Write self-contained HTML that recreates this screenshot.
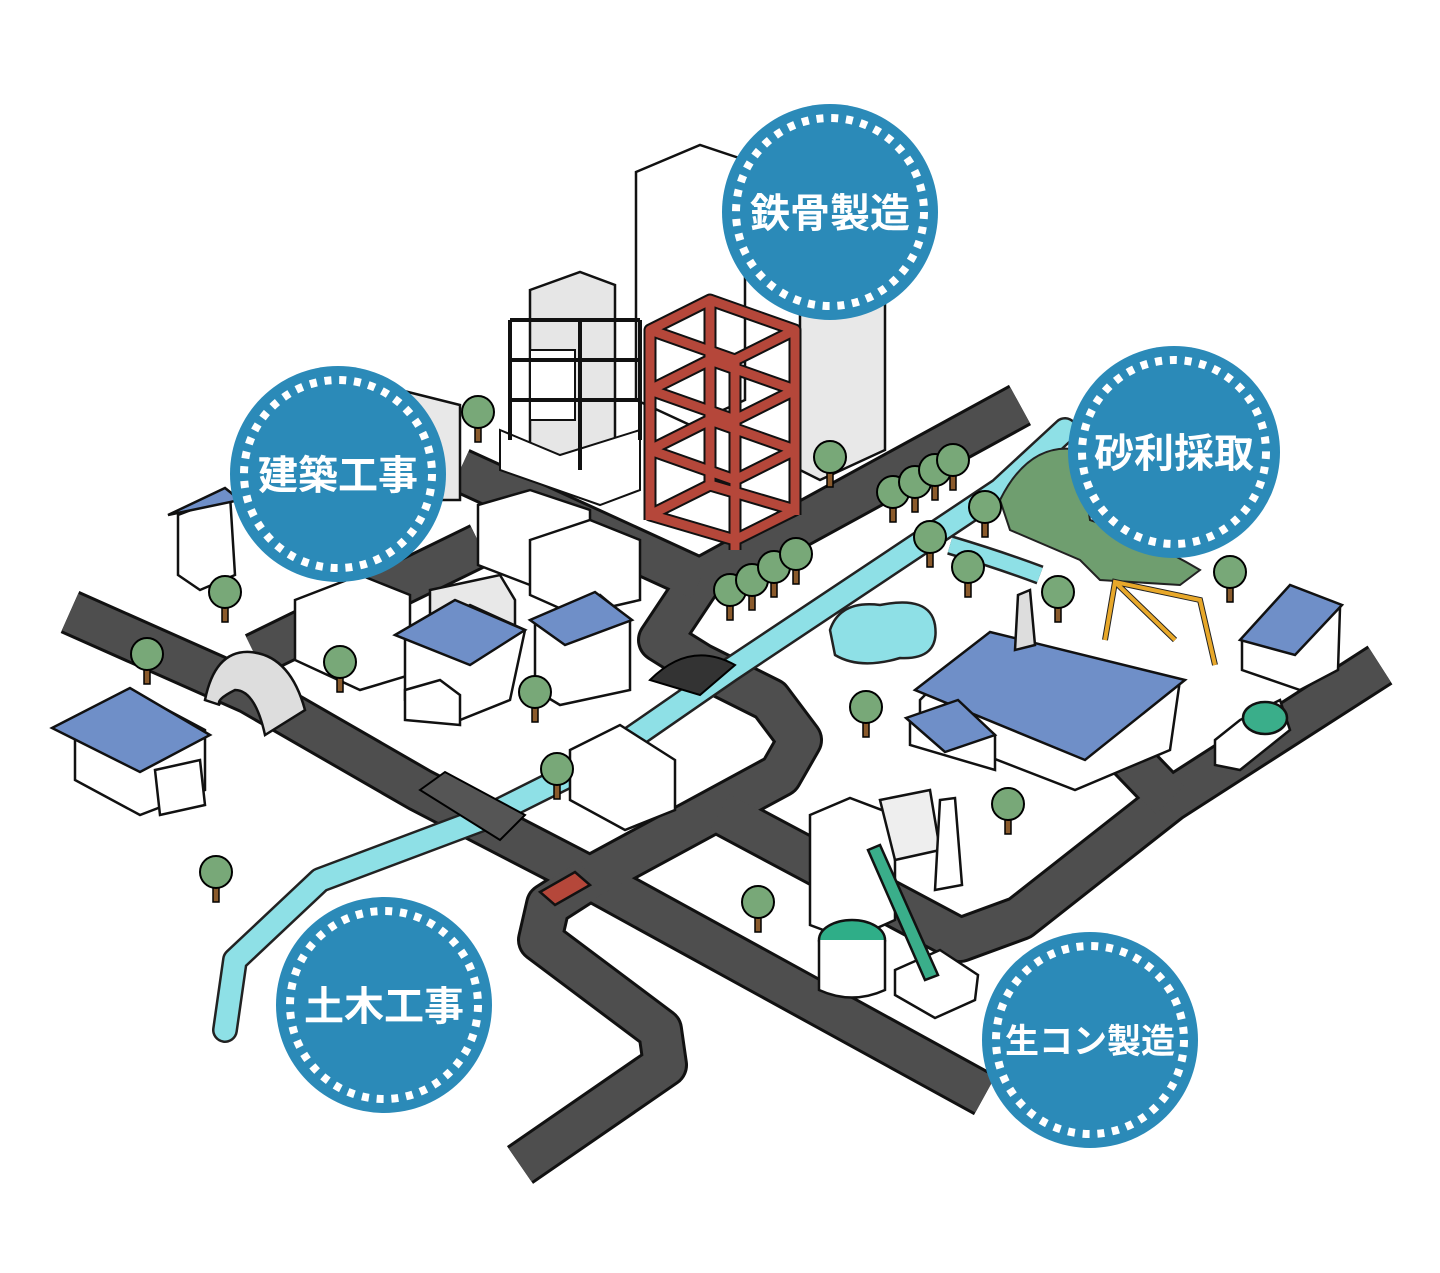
<!DOCTYPE html>
<html><head><meta charset="utf-8"><style>
html,body{margin:0;padding:0;background:#fff}
svg{display:block}
.t{font-family:"Liberation Sans","Noto Sans CJK JP",sans-serif;font-weight:bold;fill:#fff;text-anchor:middle}
</style></head><body>
<svg width="1440" height="1273" viewBox="0 0 1440 1273" xmlns="http://www.w3.org/2000/svg">
<defs>
<g id="tree"><rect x="-3" y="0" width="6" height="22" fill="#8a5a2b" stroke="#000" stroke-width="1.5"/><circle cx="0" cy="-8" r="16" fill="#78a878" stroke="#000" stroke-width="2"/></g>
</defs>
<!-- roads -->
<g fill="none" stroke-linejoin="round" stroke-linecap="butt">
<g stroke="#111" stroke-width="46">
<polyline points="70,612 250,692 420,790 590,878 985,1095"/>
<polyline points="1020,405 700,580 660,640 700,665 770,700 800,740 780,775 590,878"/>
<polyline points="460,470 700,580"/>
<polyline points="255,655 480,545"/>
<polyline points="520,1165 665,1065 660,1030 540,940 548,905 590,878"/>
<polyline points="720,812 960,940 1020,918 1170,800 1380,665"/>
<polyline points="1120,748 1170,800"/>
</g>
<g stroke="#4e4e4e" stroke-width="40">
<polyline points="70,612 250,692 420,790 590,878 985,1095"/>
<polyline points="1020,405 700,580 660,640 700,665 770,700 800,740 780,775 590,878"/>
<polyline points="460,470 700,580"/>
<polyline points="255,655 480,545"/>
<polyline points="520,1165 665,1065 660,1030 540,940 548,905 590,878"/>
<polyline points="720,812 960,940 1020,918 1170,800 1380,665"/>
<polyline points="1120,748 1170,800"/>
</g>
<!-- river -->
<polyline points="225,1030 235,960 320,880 480,820 600,760 730,670 1000,490 1065,430" stroke="#222" stroke-width="26" stroke-linecap="round" stroke-linejoin="round"/>
<polyline points="225,1030 235,960 320,880 480,820 600,760 730,670 1000,490 1065,430" stroke="#8ee0e6" stroke-width="21" stroke-linecap="round" stroke-linejoin="round"/>
<path d="M950,545 Q1000,560 1040,575" stroke="#222" stroke-width="20"/>
<path d="M950,545 Q1000,560 1040,575" stroke="#8ee0e6" stroke-width="15"/>
</g>
<!-- pond -->
<path d="M830,630 Q840,600 880,605 Q930,595 935,625 Q940,660 900,658 Q860,670 835,655 Z" fill="#8ee0e6" stroke="#222" stroke-width="2.5"/>
<!-- green hill -->
<path d="M1000,500 Q1030,440 1080,450 L1090,520 Q1150,540 1200,570 L1180,585 L1100,580 L1080,560 L1010,530 Z" fill="#6f9e6f" stroke="#222" stroke-width="2"/>
<!-- tunnel -->
<path d="M205,700 Q215,650 250,652 Q290,655 305,710 L265,735 Q255,690 235,690 Q215,700 220,705 Z" fill="#ddd" stroke="#111" stroke-width="2.5"/>
<!-- bridges -->
<path d="M650,680 Q690,640 735,665 L700,695 Z" fill="#333" stroke="#000" stroke-width="2"/>
<path d="M420,790 L445,772 L525,815 L500,840 Z" fill="#555" stroke="#000" stroke-width="2"/>
<!-- tall tower -->
<polygon points="636,172 700,145 745,160 745,400 690,425 636,400" fill="#fff" stroke="#111" stroke-width="2.5"/>
<polygon points="800,310 885,300 885,450 820,480 800,470" fill="#e8e8e8" stroke="#111" stroke-width="2.5"/>
<!-- left office -->
<polygon points="530,290 580,272 615,285 615,450 560,470 530,455" fill="#e6e6e6" stroke="#111" stroke-width="2.5"/>
<rect x="530" y="350" width="45" height="70" fill="#fff" stroke="#111" stroke-width="2"/>
<polygon points="500,430 560,455 640,430 640,490 600,505 500,470" fill="#fff" stroke="#111" stroke-width="2"/>
<g stroke="#111" stroke-width="4" fill="none"><path d="M510,320 L640,320 M510,360 L640,360 M510,400 L640,400 M510,320 L510,440 M640,320 L640,440 M580,320 L580,470"/></g>
<!-- red steel frame -->
<g fill="none" stroke="#111" stroke-width="13" stroke-linejoin="round">
<path d="M650,330 L710,300 L795,330 L735,360 Z M650,390 L710,360 L795,390 L735,420 Z M650,450 L710,420 L795,450 L735,480 Z M650,515 L710,485 L795,510 L735,540 Z M650,330 V520 M735,360 V550 M795,330 V515 M710,300 V490"/>
</g>
<g fill="none" stroke="#b5473a" stroke-width="9" stroke-linejoin="round">
<path d="M650,330 L710,300 L795,330 L735,360 Z M650,390 L710,360 L795,390 L735,420 Z M650,450 L710,420 L795,450 L735,480 Z M650,515 L710,485 L795,510 L735,540 Z M650,330 V520 M735,360 V550 M795,330 V515 M710,300 V490"/>
</g>
<!-- misc white buildings -->
<g stroke="#111" stroke-width="2.5">
<polygon points="478,505 530,490 590,510 590,570 530,585 478,565" fill="#fff"/>
<polygon points="530,540 590,520 640,540 640,600 575,615 530,595" fill="#fff"/>
<polygon points="400,390 460,405 460,500 420,500" fill="#e8e8e8"/>
<polygon points="295,600 360,575 410,595 410,675 360,690 295,660" fill="#fff"/>
<polygon points="430,590 500,575 515,600 515,640 430,650" fill="#e8e8e8"/>
<polygon points="405,640 470,605 525,630 510,700 460,720 405,700" fill="#fff"/>
<polygon points="395,635 455,600 525,630 470,665" fill="#6f8fc8"/>
<polygon points="535,625 600,595 630,620 630,690 560,705 535,690" fill="#fff"/>
<polygon points="530,620 595,592 632,620 565,645" fill="#6f8fc8"/>
<polygon points="405,690 440,680 460,695 460,725 405,720" fill="#fff"/>
<polygon points="178,515 230,495 235,575 200,590 178,575" fill="#fff"/>
<polygon points="168,515 225,488 240,500" fill="#6f8fc8"/>
<polygon points="570,750 620,725 675,760 675,810 625,830 570,800" fill="#fff"/>
<polygon points="75,740 130,690 205,730 205,790 140,815 75,780" fill="#fff"/>
<polygon points="52,728 130,688 210,735 140,772" fill="#6f8fc8"/>
<polygon points="155,770 200,760 205,805 160,815" fill="#fff"/>
<!-- factory -->
<polygon points="920,700 970,650 1180,680 1170,750 1075,790 920,730" fill="#fff"/>
<polygon points="915,690 990,632 1185,680 1085,760" fill="#6f8fc8"/>
<polygon points="910,720 960,705 995,735 995,770 910,745" fill="#fff"/>
<polygon points="906,718 958,700 995,735 945,752" fill="#6f8fc8"/>
<polygon points="1018,595 1030,590 1035,645 1015,650" fill="#ddd"/>
<!-- right house -->
<polygon points="1242,640 1290,590 1340,608 1338,670 1300,690 1242,670" fill="#fff"/>
<polygon points="1240,640 1290,585 1342,605 1295,655" fill="#6f8fc8"/>
<!-- truck -->
<polygon points="1215,740 1240,720 1280,700 1290,730 1240,770 1215,765" fill="#fff"/>
<ellipse cx="1265" cy="718" rx="22" ry="16" fill="#3aae8a"/>
<!-- mixer plant -->
<polygon points="810,815 850,798 895,815 895,920 850,940 810,925" fill="#fff"/>
<polygon points="880,800 930,790 940,850 895,860" fill="#eee"/>
<polygon points="940,800 955,798 962,885 935,890" fill="#fff"/>
<ellipse cx="852" cy="940" rx="33" ry="20" fill="#2fae88"/>
<path d="M819,940 V990 Q852,1005 885,990 V940" fill="#fff"/>
<polygon points="895,970 940,950 978,975 975,1000 935,1018 895,995" fill="#fff"/>
<polygon points="868,850 880,845 938,975 925,980" fill="#3aae8a"/>
<!-- car -->
<polygon points="540,892 575,872 590,885 555,905" fill="#b5473a"/>
</g>
<!-- crane -->
<g stroke="#222" stroke-width="6" fill="none"><path d="M1105,640 L1115,582 L1200,600 L1215,665 M1115,582 L1175,640"/></g>
<g stroke="#e8a82a" stroke-width="4" fill="none"><path d="M1105,640 L1115,582 L1200,600 L1215,665 M1115,582 L1175,640"/></g>
<!-- trees -->
<use href="#tree" x="478" y="420"/><use href="#tree" x="225" y="600"/><use href="#tree" x="147" y="662"/>
<use href="#tree" x="340" y="670"/><use href="#tree" x="535" y="700"/><use href="#tree" x="557" y="777"/>
<use href="#tree" x="216" y="880"/><use href="#tree" x="758" y="910"/><use href="#tree" x="1008" y="812"/>
<use href="#tree" x="866" y="715"/><use href="#tree" x="1058" y="600"/><use href="#tree" x="1230" y="580"/>
<use href="#tree" x="968" y="575"/><use href="#tree" x="930" y="545"/><use href="#tree" x="830" y="465"/>
<use href="#tree" x="893" y="500"/><use href="#tree" x="915" y="490"/><use href="#tree" x="935" y="478"/><use href="#tree" x="953" y="468"/>
<use href="#tree" x="730" y="598"/><use href="#tree" x="752" y="588"/><use href="#tree" x="774" y="575"/><use href="#tree" x="796" y="562"/>
<use href="#tree" x="985" y="515"/>
<!-- circles -->
<g>
<circle cx="830" cy="212" r="108" fill="#2b8ab8"/><circle cx="830" cy="212" r="94" fill="none" stroke="#fff" stroke-width="8" stroke-dasharray="7 7.8"/>
<text class="t" x="830" y="227" font-size="40">鉄骨製造</text>
<circle cx="338" cy="474" r="108" fill="#2b8ab8"/><circle cx="338" cy="474" r="94" fill="none" stroke="#fff" stroke-width="8" stroke-dasharray="7 7.8"/>
<text class="t" x="338" y="489" font-size="40">建築工事</text>
<circle cx="1174" cy="452" r="106" fill="#2b8ab8"/><circle cx="1174" cy="452" r="92" fill="none" stroke="#fff" stroke-width="8" stroke-dasharray="7 7.8"/>
<text class="t" x="1174" y="467" font-size="40">砂利採取</text>
<circle cx="384" cy="1005" r="108" fill="#2b8ab8"/><circle cx="384" cy="1005" r="94" fill="none" stroke="#fff" stroke-width="8" stroke-dasharray="7 7.8"/>
<text class="t" x="384" y="1020" font-size="40">土木工事</text>
<circle cx="1090" cy="1040" r="108" fill="#2b8ab8"/><circle cx="1090" cy="1040" r="94" fill="none" stroke="#fff" stroke-width="8" stroke-dasharray="7 7.8"/>
<text class="t" x="1090" y="1053" font-size="34">生コン製造</text>
</g>
</svg>
</body></html>
